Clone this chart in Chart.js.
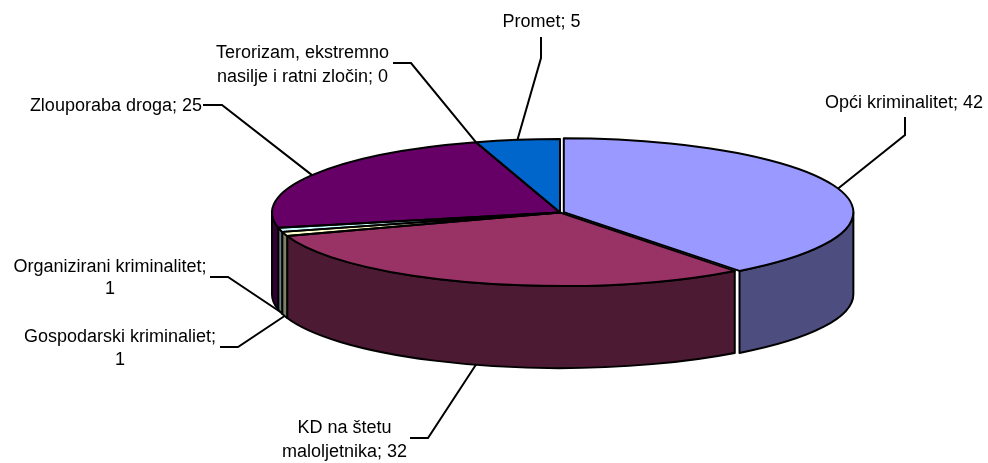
<!DOCTYPE html>
<html><head><meta charset="utf-8">
<script src="https://cdn.jsdelivr.net/npm/chart.js@4.4.1/dist/chart.umd.min.js"></script>
<style>html,body{margin:0;padding:0;background:#fff}#wrap{width:988px;height:463px;position:relative}</style>
</head><body><div id="wrap"><canvas id="c"></canvas></div>
<script>
// ---- data ----
const categories = ['Opći kriminalitet','KD na štetu maloljetnika','Gospodarski kriminaliet','Organizirani kriminalitet','Zlouporaba droga','Terorizam, ekstremno nasilje i ratni zločin','Promet'];
const values = [42, 32, 1, 1, 25, 0, 5];
const colors = ['#9999FF','#993366','#FFFFCC','#CCFFFF','#660066','#FF8080','#0066CC'];
const explode = [16, 0, 0, 0, 0, 0, 0];

// ---- layout ----
const CX = 560, CY = 212.5, R = 288, K = 73.5 / 288, DEPTH = 82;
const FONT = '18px "Liberation Sans", Arial, sans-serif';
const labelLayout = [
  {x: 904, y: 108, align: 'center', maxW: 1000, lh: 24, lead: [[905,117],[905,135]]},
  {x: 344.5, y: 433, align: 'center', maxW: 140, lh: 24, lead: [[410,438],[428,438]]},
  {x: 120, y: 342, align: 'center', maxW: 200, lh: 23, lead: [[220,347],[238,347]]},
  {x: 110, y: 272, align: 'center', maxW: 200, lh: 22, lead: [[210,277],[228,277]]},
  {x: 202, y: 111, align: 'right', maxW: 1000, lh: 24, lead: [[203,105],[222,105]]},
  {x: 302.5, y: 58, align: 'center', maxW: 200, lh: 24, lead: [[393,63],[411,63]]},
  {x: 541.5, y: 27, align: 'center', maxW: 1000, lh: 24, lead: [[541,37],[541,58]]}
];

function shade(hex, f) {
  const n = parseInt(hex.slice(1), 16);
  const r = Math.round(((n >> 16) & 255) * f), g = Math.round(((n >> 8) & 255) * f), b = Math.round((n & 255) * f);
  return `rgb(${r},${g},${b})`;
}
function geom(arc) {
  const off = (arc.options.offset || 0) / 4;
  const h = (arc.startAngle + arc.endAngle) / 2;
  const fix = 1 - Math.sin(Math.min(Math.PI, arc.circumference || 0));
  const r = arc.outerRadius + off * fix;
  return {x: CX + Math.cos(h) * off, y: CY + K * Math.sin(h) * off, rx: r, ry: r * K, h};
}
function wrap(ctx, text, maxW) {
  const words = text.split(' ');
  const lines = [];
  let cur = '';
  words.forEach(w => {
    const t = cur ? cur + ' ' + w : w;
    if (cur && ctx.measureText(t).width > maxW) { lines.push(cur); cur = w; } else cur = t;
  });
  if (cur) lines.push(cur);
  return lines;
}

const pie3d = {
  id: 'pie3d',
  beforeDatasetsDraw(chart) {
    const ctx = chart.ctx;
    const arcs = chart.getDatasetMeta(0).data;
    ctx.save();
    ctx.lineWidth = 2; ctx.strokeStyle = '#000'; ctx.lineJoin = 'round';
    arcs.forEach((arc, i) => {
      if (!(arc.circumference > 0)) return;
      const g = geom(arc);
      const a = Math.max(arc.startAngle, 0), b = Math.min(arc.endAngle, Math.PI);
      if (a < b) {
        ctx.beginPath();
        ctx.ellipse(g.x, g.y, g.rx, g.ry, 0, a, b);
        ctx.ellipse(g.x, g.y + DEPTH, g.rx, g.ry, 0, b, a, true);
        ctx.closePath();
        ctx.fillStyle = shade(colors[i], 0.5);
        ctx.fill(); ctx.stroke();
      }
    });
    ctx.restore();
    ctx.save();
    const a0 = arcs[0];
    ctx.translate(CX, CY); ctx.scale(1, K); ctx.translate(-a0.x, -a0.y);
  },
  afterDatasetsDraw(chart) {
    const ctx = chart.ctx;
    ctx.restore();
    const arcs = chart.getDatasetMeta(0).data;
    ctx.save();
    ctx.lineWidth = 2; ctx.strokeStyle = '#000'; ctx.lineJoin = 'round';
    arcs.forEach(arc => {
      if (!(arc.circumference > 0)) return;
      const g = geom(arc);
      ctx.beginPath();
      ctx.moveTo(g.x, g.y);
      ctx.ellipse(g.x, g.y, g.rx, g.ry, 0, arc.startAngle, arc.endAngle);
      ctx.closePath();
      ctx.stroke();
    });
    // labels & leader lines
    ctx.font = FONT; ctx.fillStyle = '#000'; ctx.textBaseline = 'alphabetic';
    ctx.lineJoin = 'miter';
    arcs.forEach((arc, i) => {
      const L = labelLayout[i];
      const g = geom(arc);
      const h = g.h;
      let ax = g.x + g.rx * Math.cos(h), ay = g.y + g.ry * Math.sin(h);
      if (Math.sin(h) > 0) ay += DEPTH;
      ctx.beginPath();
      ctx.moveTo(L.lead[0][0], L.lead[0][1]);
      ctx.lineTo(L.lead[1][0], L.lead[1][1]);
      ctx.lineTo(ax, ay);
      ctx.stroke();
      const text = categories[i] + '; ' + values[i];
      const lines = wrap(ctx, text, L.maxW);
      ctx.textAlign = L.align;
      lines.forEach((ln, k) => ctx.fillText(ln, L.x, L.y + k * L.lh));
    });
    ctx.restore();
  }
};

new Chart(document.getElementById('c'), {
  type: 'pie',
  data: {
    labels: categories,
    datasets: [{
      data: values,
      backgroundColor: colors,
      borderWidth: 0,
      offset: explode,
      radius: R,
      clip: false
    }]
  },
  options: {
    responsive: true,
    maintainAspectRatio: false,
    animation: false,
    events: [],
    layout: {padding: 0},
    plugins: {legend: {display: false}, tooltip: {enabled: false}}
  },
  plugins: [pie3d]
});
</script>
</body></html>
